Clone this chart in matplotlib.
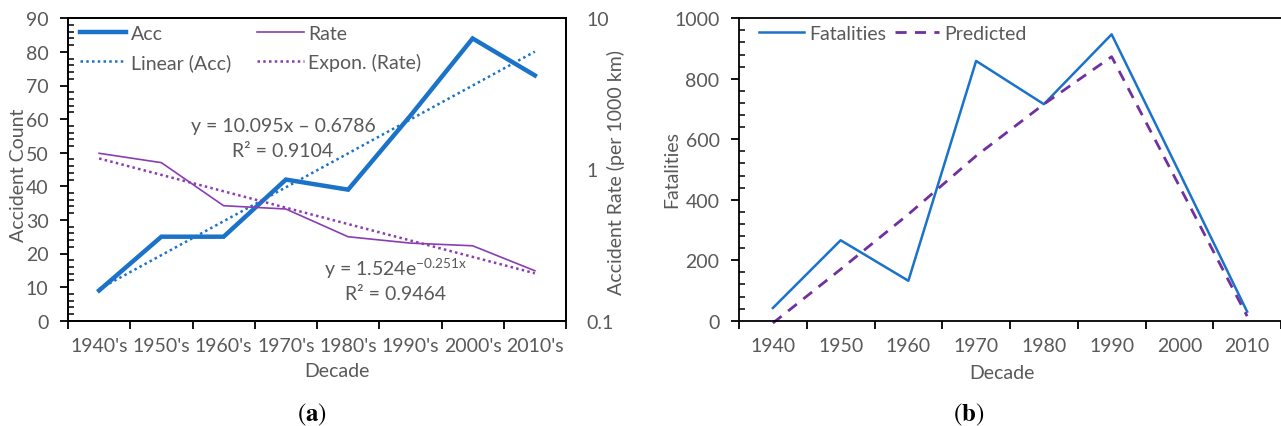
import numpy as np
import matplotlib.pyplot as plt
from matplotlib.ticker import FixedLocator, FixedFormatter, MultipleLocator, NullLocator, NullFormatter

plt.rcParams['font.family'] = ['Lato', 'DejaVu Sans']
plt.rcParams['mathtext.fontset'] = 'stix'

# ---------------------------------------------------------------- data
decades_a = ["1940's", "1950's", "1960's", "1970's", "1980's", "1990's", "2000's", "2010's"]
acc = [9, 25, 25, 42, 39, 61, 84, 73]
rate = [1.28, 1.11, 0.576, 0.548, 0.359, 0.326, 0.313, 0.214]

decades_b = ['1940', '1950', '1960', '1970', '1980', '1990', '2000', '2010']
fatalities = [42, 266, 132, 859, 716, 947, 490, 30]
predicted = [-8, 170, 352, 545, 716, 873, 445, 15]

BLUE = '#1a73c9'
PURPLE = '#8a3db3'
DPURPLE = '#7030a0'
GREY = '#595959'
FS = 14

fig = plt.figure(figsize=(12.81, 4.27), dpi=100)
W, H = 1281.0, 427.0


def cat_axis(ax, labels):
    n = len(labels)
    ax.set_xlim(-0.5, n - 0.5)
    ax.xaxis.set_major_locator(FixedLocator(np.arange(n + 1) - 0.5))
    ax.xaxis.set_major_formatter(NullFormatter())
    ax.xaxis.set_minor_locator(FixedLocator(np.arange(n)))
    ax.xaxis.set_minor_formatter(FixedFormatter(labels))
    ax.tick_params(axis='x', which='major', direction='out', length=6, width=1.3, color='black')
    ax.tick_params(axis='x', which='minor', length=0, pad=12, labelsize=FS, labelcolor=GREY)


# ---------------------------------------------------------------- (a)
ax = fig.add_axes([68 / W, 105.3 / H, 498 / W, 302.4 / H])
x = np.arange(len(acc))
ax.plot(x, acc, color=BLUE, lw=3.2, solid_joinstyle='miter', label='Acc', zorder=3)
k, b = np.polyfit(x + 1, acc, 1)
ax.plot(x, k * (x + 1) + b, color=BLUE, lw=1.8, ls=(0, (1, 1.3)), label='Linear (Acc)', zorder=2)
ax.set_ylim(0, 90)
ax.yaxis.set_major_locator(MultipleLocator(10))
ax.yaxis.set_minor_locator(MultipleLocator(2))
ax.tick_params(axis='y', which='major', direction='out', length=6, width=1.3, pad=8,
               labelsize=FS, labelcolor=GREY)
ax.tick_params(axis='y', which='minor', direction='in', length=4, width=1.1)
cat_axis(ax, decades_a)
for s in ax.spines.values():
    s.set_color('black')
    s.set_linewidth(1.3)
ax.set_ylabel('Accident Count', fontsize=FS, color=GREY)
ax.yaxis.set_label_coords(-0.082, 0.485)
ax.set_xlabel('Decade', fontsize=FS, color=GREY)
ax.xaxis.set_label_coords(0.54, -0.137)

ax2 = ax.twinx()
ax2.plot(x, rate, color=PURPLE, lw=1.2, label='Rate', zorder=3)
kr, br = np.polyfit(x + 1, np.log(rate), 1)
ax2.plot(x, np.exp(br) * np.exp(kr * (x + 1)), color=PURPLE, lw=1.8, ls=(0, (1, 1.3)),
         label='Expon. (Rate)', zorder=2)
ax2.set_yscale('log')
ax2.set_ylim(0.1, 10)
ax2.yaxis.set_major_locator(FixedLocator([0.1, 1, 10]))
ax2.yaxis.set_major_formatter(FixedFormatter(['0.1', '1', '10']))
ax2.yaxis.set_minor_locator(NullLocator())
ax2.tick_params(axis='y', length=0, pad=15, labelsize=FS, labelcolor=GREY)
for s in ax2.spines.values():
    s.set_color('black')
    s.set_linewidth(1.3)
ax2.set_ylabel('Accident Rate (per 1000 km)', fontsize=FS, color=GREY)
ax2.yaxis.set_label_coords(1.082, 0.492)

h1, l1 = ax.get_legend_handles_labels()
h2, l2 = ax2.get_legend_handles_labels()
handles = [h1[0], h1[1], h2[0], h2[1]]
labels = [l1[0], l1[1], l2[0], l2[1]]
ax2.legend(handles, labels, ncol=2, loc='upper left', bbox_to_anchor=(0.01, 1.0),
           frameon=False, fontsize=FS, labelcolor=GREY, handlelength=2.4,
           handletextpad=0.25, columnspacing=1.3, labelspacing=0.55,
           borderaxespad=0.1, borderpad=0.25)

ax2.text(0.432, 0.628, 'y = 10.095x \u2013 0.6786', transform=ax.transAxes, ha='center',
         va='baseline', fontsize=FS, color=GREY)
ax2.text(0.430, 0.546, 'R\u00b2 = 0.9104', transform=ax.transAxes, ha='center',
         va='baseline', fontsize=FS, color=GREY)
ax2.text(0.657, 0.151, 'y = 1.524e$^{\\mathregular{\u22120.251x}}$', transform=ax.transAxes,
         ha='center', va='baseline', fontsize=FS, color=GREY)
ax2.text(0.657, 0.072, 'R\u00b2 = 0.9464', transform=ax.transAxes, ha='center',
         va='baseline', fontsize=FS, color=GREY)

# ---------------------------------------------------------------- (b)
bx = fig.add_axes([739 / W, 105.3 / H, 1 - 739 / W, 302.4 / H])
xb = np.arange(len(fatalities))
bx.plot(xb, fatalities, color=BLUE, lw=1.8, label='Fatalities')
bx.plot(xb, predicted, color=DPURPLE, lw=2.0, ls=(0, (4, 3)), label='Predicted', clip_on=False)
bx.set_ylim(0, 1000)
bx.yaxis.set_major_locator(MultipleLocator(200))
bx.yaxis.set_minor_locator(MultipleLocator(40))
bx.tick_params(axis='y', which='major', direction='out', length=6, width=1.3, pad=8,
               labelsize=FS, labelcolor=GREY)
bx.tick_params(axis='y', which='minor', direction='in', length=4, width=1.1)
cat_axis(bx, decades_b)
for s in bx.spines.values():
    s.set_color('black')
    s.set_linewidth(1.3)
bx.spines['right'].set_visible(False)
bx.set_ylabel('Fatalities', fontsize=FS, color=GREY)
bx.yaxis.set_label_coords(-0.109, 0.502)
bx.set_xlabel('Decade', fontsize=FS, color=GREY)
bx.xaxis.set_label_coords(0.486, -0.143)
bx.legend(ncol=2, loc='upper left', bbox_to_anchor=(0.025, 1.0), frameon=False,
          fontsize=FS, labelcolor=GREY, handlelength=2.3, handletextpad=0.25,
          columnspacing=0.45, borderaxespad=0.1, borderpad=0.25)

# ---------------------------------------------------------------- captions
fig.text(312 / W, 1 - 415 / H, '$(\\mathbf{a})$', ha='center', va='center', fontsize=18)
fig.text(969 / W, 1 - 415 / H, '$(\\mathbf{b})$', ha='center', va='center', fontsize=18)

fig.savefig('out.png', dpi=100)
